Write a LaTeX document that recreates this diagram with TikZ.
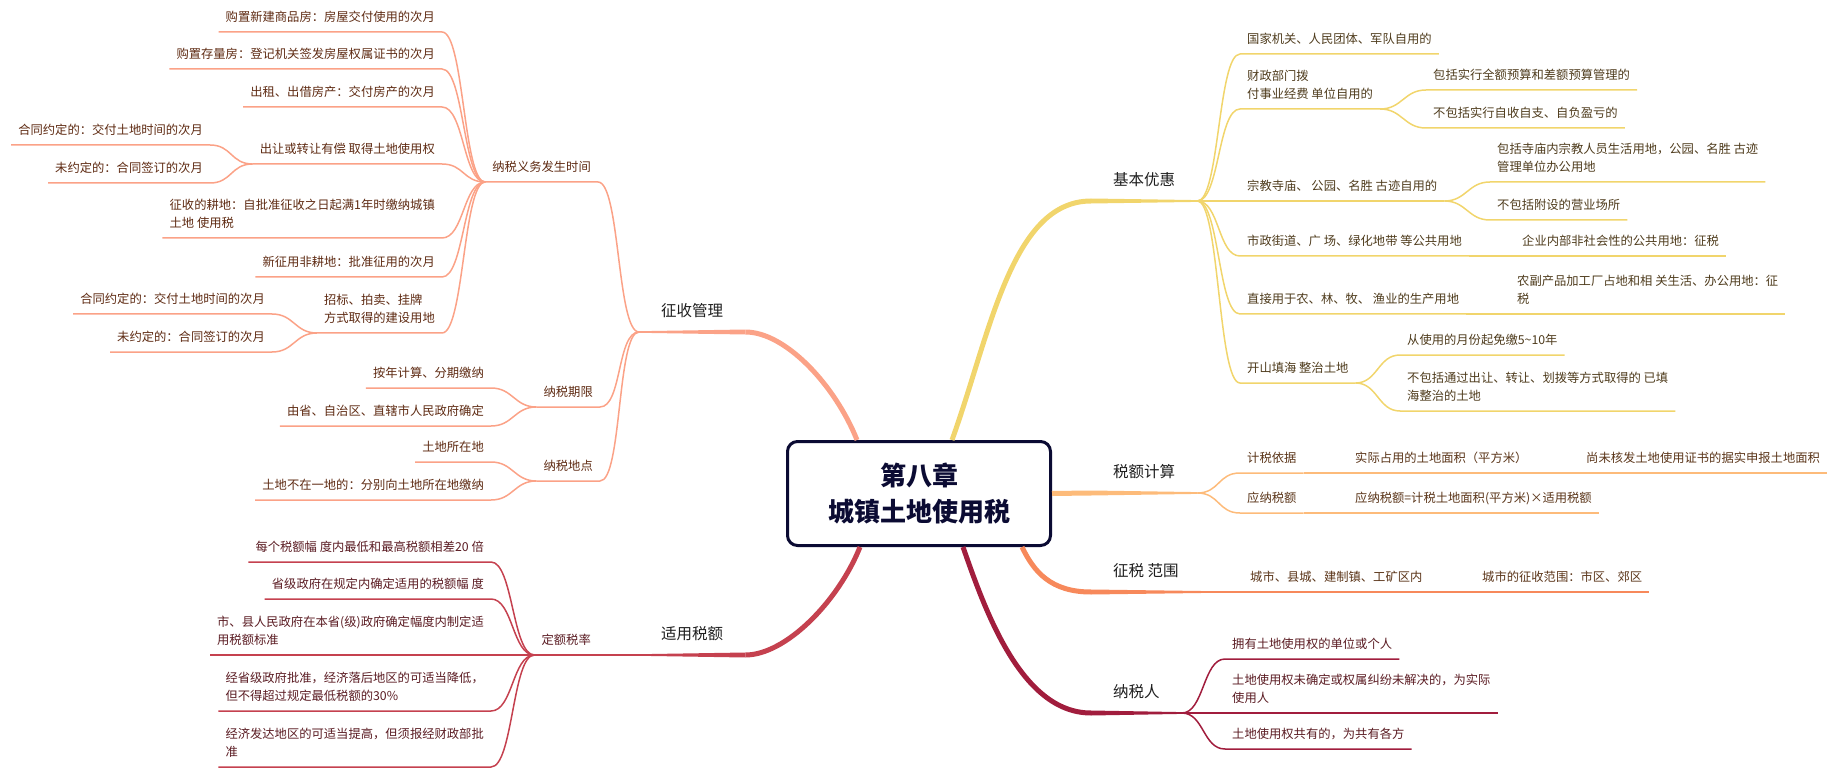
\documentclass[tikz,border=0pt]{standalone}
\usepackage{fontspec}
\setmainfont{Noto Sans CJK SC}
\usetikzlibrary{positioning}

\definecolor{ylw}{HTML}{F1D56C}
\definecolor{org}{HTML}{FDBB7A}
\definecolor{orgdeep}{HTML}{F7895B}
\definecolor{crim}{HTML}{A11D3D}
\definecolor{rosered}{HTML}{C5414F}
\definecolor{salmon}{HTML}{FBA287}
\definecolor{navy}{HTML}{0B0B33}
\definecolor{mainfg}{HTML}{1E1E1E}
\definecolor{ylwfg}{HTML}{4E3B1C}
\definecolor{orgfg}{HTML}{5A3418}
\definecolor{salfg}{HTML}{5E2A12}
\definecolor{redfg}{HTML}{5A1B22}

\tikzset{
  title/.style={draw=navy, line width=3pt, rounded corners=10pt, fill=white,
    minimum width=263pt, minimum height=104pt, align=center, text=navy,
    font=\fontsize{26}{36}\selectfont\bfseries},
  mainlbl/.style={anchor=south west, font=\fontsize{15.5}{22}\selectfont, text=mainfg,
    inner xsep=22pt, inner ysep=8.5pt,
    execute at begin node=\strut, execute at end node=\strut},
  leaf/.style={font=\fontsize{12.3}{18}\selectfont, align=left,
    inner xsep=7pt, inner ysep=5pt,
    execute at begin node=\strut, execute at end node=\strut},
  rleaf/.style={leaf, anchor=south west},
  lleaf/.style={leaf, anchor=south east},
  trunk/.style={line width=5pt},
  twig/.style={line width=1.5pt},
}

\begin{document}
\begin{tikzpicture}[x=1pt, y=-1pt]
\useasboundingbox (0,0) rectangle (1830,783);

% centre topic
\node[title] (title) at (919,493.5) {第八章\\城镇土地使用税};

% main branches
\node[mainlbl] (zsgl) at (639,332) {征收管理};
\node[mainlbl] (sysl) at (639,655) {适用税额};
\node[mainlbl] (jbyh) at (1091,201) {基本优惠};
\node[mainlbl] (sejs) at (1091,493) {税额计算};
\node[mainlbl] (zsfw) at (1091,592) {征税 范围};
\node[mainlbl] (nsr)  at (1091,713) {纳税人};

% trunks, thinning out under the labels
\draw[trunk, salmon] ([xshift=-62pt]title.north) .. controls +(-22,-55) and +(40,0) .. (zsgl.south east);
\fill[salmon] ([yshift=2.5pt]zsgl.south east) -- ([yshift=0.8pt]zsgl.south west) -- ([yshift=-0.8pt]zsgl.south west) -- ([yshift=-2.5pt]zsgl.south east) -- cycle;
\draw[trunk, rosered] ([xshift=-59pt]title.south) .. controls +(-22,55) and +(40,0) .. (sysl.south east);
\fill[rosered] ([yshift=2.5pt]sysl.south east) -- ([yshift=0.8pt]sysl.south west) -- ([yshift=-0.8pt]sysl.south west) -- ([yshift=-2.5pt]sysl.south east) -- cycle;
\draw[trunk, ylw] ([xshift=33pt]title.north) .. controls +(38,-105) and +(-80,0) .. (jbyh.south west);
\fill[ylw] ([yshift=2.5pt]jbyh.south west) -- ([yshift=0.9pt]jbyh.south east) -- ([yshift=-0.9pt]jbyh.south east) -- ([yshift=-2.5pt]jbyh.south west) -- cycle;
\draw[trunk, org] (title.east) -- (sejs.south west);
\fill[org] ([yshift=2.5pt]sejs.south west) -- ([yshift=0.9pt]sejs.south east) -- ([yshift=-0.9pt]sejs.south east) -- ([yshift=-2.5pt]sejs.south west) -- cycle;
\draw[trunk, orgdeep] ([xshift=103pt]title.south) .. controls +(12,25) and +(-40,0) .. (zsfw.south west);
\fill[orgdeep] ([yshift=2.5pt]zsfw.south west) -- ([yshift=1pt]zsfw.south east) -- ([yshift=-1pt]zsfw.south east) -- ([yshift=-2.5pt]zsfw.south west) -- cycle;
\draw[trunk, crim] ([xshift=44pt]title.south) .. controls +(22,63) and +(-70,0) .. (nsr.south west);
\fill[crim] ([yshift=2.5pt]nsr.south west) -- ([yshift=0.9pt]nsr.south east) -- ([yshift=-0.9pt]nsr.south east) -- ([yshift=-2.5pt]nsr.south west) -- cycle;

% ---- 基本优惠 ----
\begin{scope}[every node/.style={rleaf, text=ylwfg}]
\node (y1) at (1240,54)  {国家机关、人民团体、军队自用的};
\node (y2) at (1240,109) {财政部门拨\\付事业经费 单位自用的};
\node (y3) at (1240,201) {宗教寺庙、 公园、名胜 古迹自用的};
\node (y4) at (1240,256) {市政街道、广 场、绿化地带 等公共用地};
\node (y5) at (1240,314) {直接用于农、林、牧、 渔业的生产用地};
\node (y6) at (1240,383) {开山填海 整治土地};
\node (y2a) at (1426,90)  {包括实行全额预算和差额预算管理的};
\node (y2b) at (1426,128) {不包括实行自收自支、自负盈亏的};
\node (y3a) at (1490,182) {包括寺庙内宗教人员生活用地，公园、名胜 古迹\\管理单位办公用地};
\node (y3b) at (1490,220) {不包括附设的营业场所};
\node (y4a) at (1515,256) {企业内部非社会性的公共用地：征税};
\node (y5a) at (1510,314) {农副产品加工厂占地和相 关生活、办公用地：征\\税};
\node (y6a) at (1400,355) {从使用的月份起免缴5\textasciitilde10年};
\node (y6b) at (1400,411) {不包括通过出让、转让、划拨等方式取得的 已填\\海整治的土地};
\end{scope}
\foreach \c in {y1,y2,y3,y4,y5,y6}
  \draw[twig, ylw] (jbyh.south east) .. controls +(22,0) and +(-22,0) .. (\c.south west) -- (\c.south east);
\foreach \p/\c in {y2/y2a, y2/y2b, y3/y3a, y3/y3b, y4/y4a, y5/y5a, y6/y6a, y6/y6b}
  \draw[twig, ylw] (\p.south east) .. controls +(22,0) and +(-22,0) .. (\c.south west) -- (\c.south east);

% ---- 税额计算 ----
\begin{scope}[every node/.style={rleaf, text=orgfg}]
\node (s1) at (1240,473) {计税依据};
\node (s2) at (1240,513) {应纳税额};
\node (s1a) at (1348,473) {实际占用的土地面积（平方米）};
\node (s1b) at (1579,473) {尚未核发土地使用证书的据实申报土地面积};
\node (s2a) at (1348,513) {应纳税额=计税土地面积(平方米)×适用税额};
\end{scope}
\foreach \c in {s1,s2}
  \draw[twig, org] (sejs.south east) .. controls +(22,0) and +(-22,0) .. (\c.south west) -- (\c.south east);
\foreach \p/\c in {s1/s1a, s1a/s1b, s2/s2a}
  \draw[twig, org] (\p.south east) -- (\c.south west) -- (\c.south east);

% ---- 征税范围 ----
\begin{scope}[every node/.style={rleaf, text=orgfg}]
\node (z1) at (1243,592) {城市、县城、建制镇、工矿区内};
\node (z1a) at (1475,592) {城市的征收范围：市区、郊区};
\end{scope}
\draw[twig, orgdeep] (zsfw.south east) -- (z1.south west) -- (z1.south east) -- (z1a.south west) -- (z1a.south east);

% ---- 纳税人 ----
\begin{scope}[every node/.style={rleaf, text=redfg}]
\node (n1) at (1225,659) {拥有土地使用权的单位或个人};
\node (n2) at (1225,713) {土地使用权未确定或权属纠纷未解决的，为实际\\使用人};
\node (n3) at (1225,749) {土地使用权共有的，为共有各方};
\end{scope}
\foreach \c in {n1,n2,n3}
  \draw[twig, crim] (nsr.south east) .. controls +(22,0) and +(-22,0) .. (\c.south west) -- (\c.south east);

% ---- 征收管理 ----
\begin{scope}[every node/.style={lleaf, text=salfg}]
\node (nywfs) at (598,182) {纳税义务发生时间};
\node (nsqx) at (600,407) {纳税期限};
\node (nsdd) at (600,481) {纳税地点};
\node (t1) at (442,32)  {购置新建商品房：房屋交付使用的次月};
\node (t2) at (442,69)  {购置存量房：登记机关签发房屋权属证书的次月};
\node (t3) at (442,107) {出租、出借房产：交付房产的次月};
\node (t4) at (442,164) {出让或转让有偿 取得土地使用权};
\node (t5) at (442,238) {征收的耕地：自批准征收之日起满1年时缴纳城镇\\土地 使用税};
\node (t6) at (442,277) {新征用非耕地：批准征用的次月};
\node (t7) at (442,333) {招标、拍卖、挂牌\\方式取得的建设用地};
\node (t4a) at (210,145) {合同约定的：交付土地时间的次月};
\node (t4b) at (210,183) {未约定的：合同签订的次月};
\node (t7a) at (272,314) {合同约定的：交付土地时间的次月};
\node (t7b) at (272,352) {未约定的：合同签订的次月};
\node (q1) at (491,388) {按年计算、分期缴纳};
\node (q2) at (491,426) {由省、自治区、直辖市人民政府确定};
\node (d1) at (491,462) {土地所在地};
\node (d2) at (491,500) {土地不在一地的：分别向土地所在地缴纳};
\end{scope}
\foreach \c in {nywfs,nsqx,nsdd}
  \draw[twig, salmon] (zsgl.south west) .. controls +(-22,0) and +(22,0) .. (\c.south east) -- (\c.south west);
\foreach \c in {t1,t2,t3,t4,t5,t6,t7}
  \draw[twig, salmon] (nywfs.south west) .. controls +(-22,0) and +(22,0) .. (\c.south east) -- (\c.south west);
\foreach \p/\c in {t4/t4a, t4/t4b, t7/t7a, t7/t7b, nsqx/q1, nsqx/q2, nsdd/d1, nsdd/d2}
  \draw[twig, salmon] (\p.south west) .. controls +(-22,0) and +(22,0) .. (\c.south east) -- (\c.south west);

% ---- 适用税额 ----
\begin{scope}[every node/.style={lleaf, text=redfg}]
\node (dess) at (598,655) {定额税率};
\node (e1) at (491,562) {每个税额幅 度内最低和最高税额相差20 倍};
\node (e2) at (491,599) {省级政府在规定内确定适用的税额幅 度};
\node (e3) at (491,655) {市、县人民政府在本省(级)政府确定幅度内制定适\\用税额标准};
\node (e4) at (491,711) {经省级政府批准，经济落后地区的可适当降低，\\但不得超过规定最低税额的30\%};
\node (e5) at (491,767) {经济发达地区的可适当提高，但须报经财政部批\\准};
\end{scope}
\draw[twig, rosered] (sysl.south west) -- (dess.south east) -- (dess.south west);
\foreach \c in {e1,e2,e3,e4,e5}
  \draw[twig, rosered] (dess.south west) .. controls +(-22,0) and +(22,0) .. (\c.south east) -- (\c.south west);

\end{tikzpicture}
\end{document}
